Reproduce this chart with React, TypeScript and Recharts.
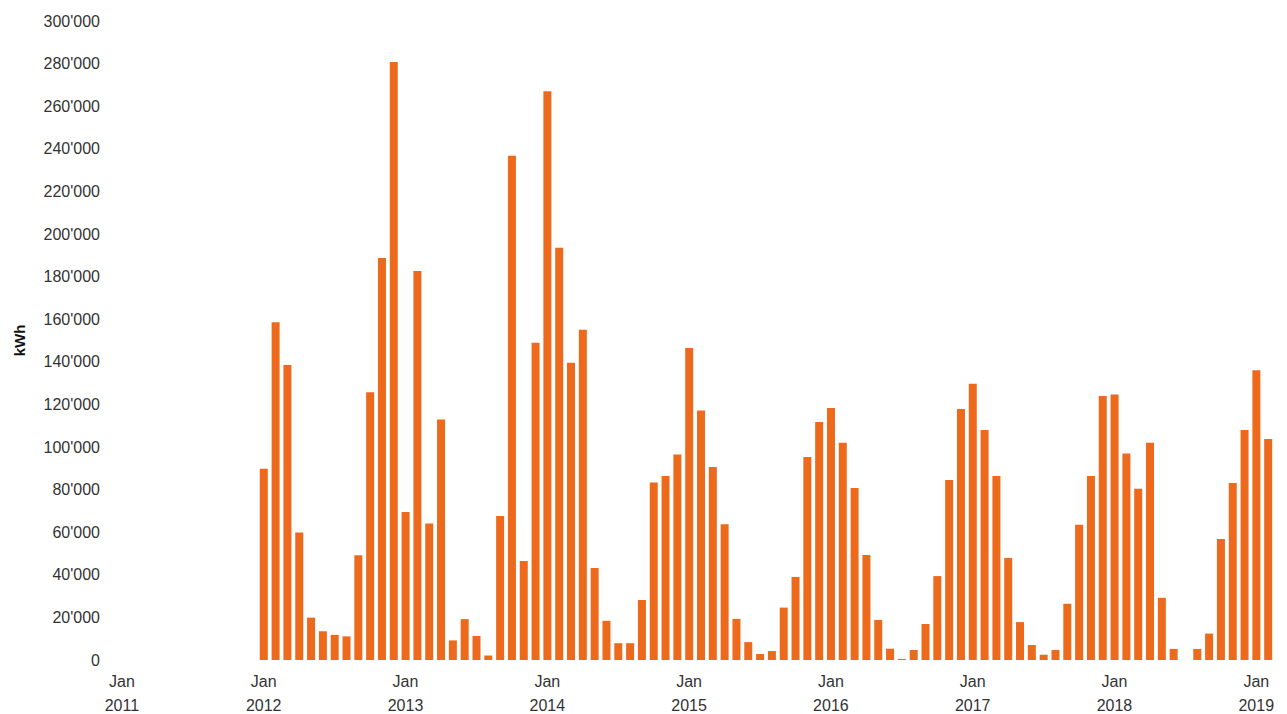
import React from "react";
import { BarChart, Bar, XAxis, YAxis } from "recharts";

const years = [2011, 2012, 2013, 2014, 2015, 2016, 2017, 2018, 2019];
const monthNames = ["Jan", "Feb", "Mar", "Apr", "May", "Jun", "Jul", "Aug", "Sep", "Oct", "Nov", "Dec"];

const v2011: (number | null)[] = [null, null, null, null, null, null, null, null, null, null, null, null];
const v2012: (number | null)[] = [89800, 158600, 138500, 59900, 19900, 13500, 11800, 11100, 49200, 125700, 188700, 280800];
const v2013: (number | null)[] = [69500, 182600, 64100, 112900, 9200, 19200, 11300, 2100, 67600, 236700, 46500, 149000];
const v2014: (number | null)[] = [267000, 193600, 139500, 155000, 43200, 18400, 7900, 7900, 28200, 83300, 86400, 96500];
const v2015: (number | null)[] = [146500, 117100, 90600, 63700, 19300, 8400, 2800, 4200, 24600, 39000, 95300, 111700];
const v2016: (number | null)[] = [118300, 102000, 80800, 49300, 18800, 5300, 500, 4700, 16900, 39400, 84500, 117800];
const v2017: (number | null)[] = [129700, 108000, 86400, 47900, 17800, 7000, 2500, 4700, 26400, 63500, 86400, 124000];
const v2018: (number | null)[] = [124600, 96900, 80400, 102000, 29200, 5200, null, 5200, 12400, 56800, 83100, 108000];
const v2019: (number | null)[] = [136000, 103700];

const yTicks = [0, 20000, 40000, 60000, 80000, 100000, 120000, 140000, 160000, 180000, 200000, 220000, 240000, 260000, 280000, 300000];

const valuesByYear = [v2011, v2012, v2013, v2014, v2015, v2016, v2017, v2018, v2019];

const data: { key: string; month: string; year: number; kwh: number | null }[] = [];
years.forEach((yr, i) => {
  valuesByYear[i].forEach((val, m) => {
    data.push({ key: `${yr}-${m + 1}`, month: monthNames[m], year: yr, kwh: val });
  });
});

const fmt = (v: number) => String(v).replace(/\B(?=(\d{3})+(?!\d))/g, "'");

const FONT = "Liberation Sans, Arial, Helvetica, sans-serif";

const XTick = (props: any) => {
  const { x, y, payload } = props;
  const parts = String(payload.value).split("-");
  if (parts[1] !== "1") return <g />;
  return (
    <g>
      <text x={x} y={y + 27} textAnchor="middle" fill="#333" fontSize={16} fontFamily={FONT}>
        Jan
      </text>
      <text x={x} y={y + 51} textAnchor="middle" fill="#333" fontSize={16} fontFamily={FONT}>
        {parts[0]}
      </text>
    </g>
  );
};

export default function App() {
  return (
    <div style={{ width: 1279, height: 706, background: "#fff" }}>
      <BarChart
        width={1279}
        height={706}
        data={data}
        margin={{ top: 13, right: 13, bottom: 0, left: 0 }}
        barCategoryGap={0}
      >
        <XAxis
          dataKey="key"
          interval={0}
          tick={<XTick />}
          tickLine={false}
          axisLine={false}
          tickSize={0}
          tickMargin={0}
          height={54}
        />
        <YAxis
          domain={[0, 300000]}
          ticks={yTicks}
          tickFormatter={fmt}
          tickLine={false}
          axisLine={false}
          tickSize={0}
          tickMargin={16}
          width={108}
          interval={0}
          tick={{ fill: "#333", fontSize: 16, fontFamily: FONT }}
          label={{
            value: "kWh",
            angle: -90,
            position: "insideLeft",
            offset: 12,
            style: { fill: "#111", fontSize: 15, fontWeight: "bold", fontFamily: FONT, textAnchor: "middle" },
          }}
        />
        <Bar dataKey="kwh" fill="#ED6A1C" barSize={8} isAnimationActive={false} />
      </BarChart>
    </div>
  );
}
